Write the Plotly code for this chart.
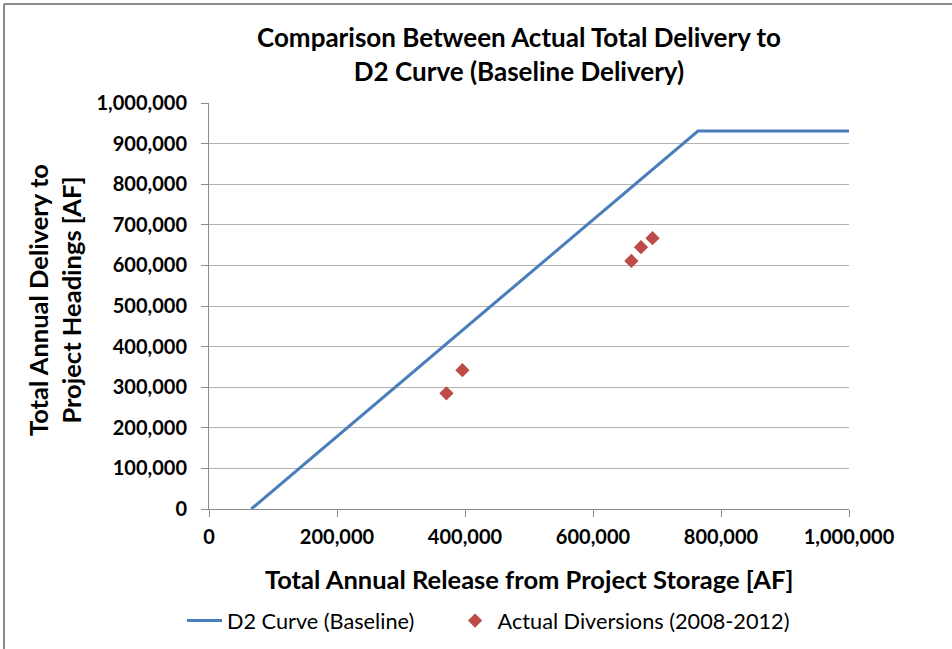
import plotly.graph_objects as go

# D2 curve (baseline)
curve_x = [66000, 764000, 1000000]
curve_y = [0, 931000, 931000]

# Actual diversions (2008-2012)
actual_x = [371000, 396000, 660000, 675000, 693000]
actual_y = [285000, 342000, 611000, 645000, 667000]

x_ticks = [0, 200000, 400000, 600000, 800000, 1000000]
y_ticks = [0, 100000, 200000, 300000, 400000, 500000, 600000, 700000, 800000, 900000, 1000000]

series_names = ["D2 Curve (Baseline)", "Actual Diversions (2008-2012)"]

FONT = "Lato"
PAD = "\u00a0" * 6

fig = go.Figure()
fig.add_trace(go.Scatter(x=curve_x, y=curve_y, mode="lines", name=series_names[0] + PAD,
                         line=dict(color="#4a7ebb", width=3)))
fig.add_trace(go.Scatter(x=actual_x, y=actual_y, mode="markers", name=series_names[1],
                         marker=dict(symbol="diamond", color="#be4b48", size=11)))

L, R, T, B = 209, 103, 103, 140
W, H = 952, 649
pw, ph = W - L - R, H - T - B

def px(xp):
    return (xp - L) / pw

def py(yp):
    return (H - B - yp) / ph

fig.update_layout(
    width=W, height=H,
    margin=dict(l=L, r=R, t=T, b=B, autoexpand=False),
    paper_bgcolor="white", plot_bgcolor="white",
    font=dict(family=FONT, color="black"),
    separators=".,",
    showlegend=True,
    legend=dict(orientation="h", x=px(182), xanchor="left", y=py(621), yanchor="middle",
                font=dict(size=21.7, family=FONT), tracegroupgap=0, itemwidth=35),
    xaxis=dict(range=[0, 1000000], tickvals=x_ticks, tickformat=",d", showgrid=False,
               showline=True, linecolor="#8c8c8c", linewidth=1, ticks="outside", ticklen=7,
               tickcolor="#8c8c8c", zeroline=False, ticklabelstandoff=3,
               tickfont=dict(size=20, family=FONT, weight="bold")),
    yaxis=dict(range=[0, 1000000], tickvals=y_ticks, tickformat=",d", showgrid=True,
               gridcolor="#b3b3b3", gridwidth=1,
               showline=True, linecolor="#8c8c8c", linewidth=1, ticks="outside", ticklen=7,
               tickcolor="#8c8c8c", zeroline=False, ticklabelstandoff=10,
               tickfont=dict(size=20, family=FONT, weight="bold")),
    annotations=[
        dict(text="<b>Comparison Between Actual Total Delivery to<br>D2 Curve (Baseline Delivery)</b>",
             xref="paper", yref="paper", x=px(519), y=py(54), xanchor="center", yanchor="middle",
             showarrow=False, font=dict(size=26, family=FONT)),
        dict(text="<b>Total Annual Release from Project Storage [AF]</b>",
             xref="paper", yref="paper", x=px(529), y=py(579), xanchor="center", yanchor="middle",
             showarrow=False, font=dict(size=25.5, family=FONT)),
        dict(text="<b>Total Annual Delivery to<br>Project Headings [AF]</b>",
             xref="paper", yref="paper", x=px(54), y=py(300), xanchor="center", yanchor="middle",
             showarrow=False, textangle=-90, font=dict(size=25.5, family=FONT)),
    ],
    shapes=[
        dict(type="line", xref="paper", yref="paper", x0=px(4), x1=px(W + 5), y0=py(4), y1=py(4),
             line=dict(color="#8a8a8a", width=2)),
        dict(type="line", xref="paper", yref="paper", x0=px(4), x1=px(4), y0=py(4), y1=py(H + 5),
             line=dict(color="#8a8a8a", width=2)),
    ],
)

fig.write_html("out.html", config={"displayModeBar": False},
               post_script="document.body.style.margin='0';")
